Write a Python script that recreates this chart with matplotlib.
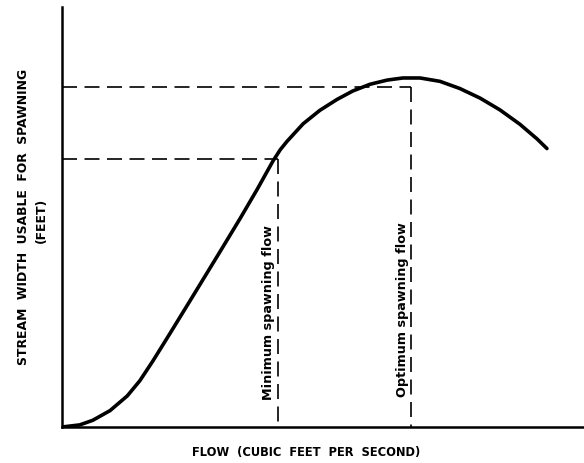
import matplotlib
matplotlib.use("Agg")
import matplotlib.pyplot as plt

# curve (arbitrary units, both axes 0-100)
flow = [0, 3.4, 5.9, 9.2, 12.5, 14.9, 17.4, 20.7, 24.5, 30.3, 34.1, 37.4,
        40.4, 41.8, 43.1, 46.2, 49.4, 52.7, 55.7, 59.0, 62.3, 65.3, 68.6,
        72.4, 76.2, 80.1, 83.9, 87.7, 91.0, 92.9]
width = [0, 0.5, 1.6, 3.9, 7.4, 11.0, 15.7, 22.3, 30.0, 41.8, 49.6, 56.6,
         63.3, 66.0, 68.0, 72.2, 75.4, 78.0, 80.0, 81.6, 82.6, 83.1, 83.1,
         82.3, 80.6, 78.3, 75.5, 72.1, 68.6, 66.3]

min_flow, min_width = 41.4, 63.8
opt_flow, opt_width = 66.9, 81.0

fig = plt.figure(figsize=(5.84, 4.64), dpi=100)
ax = fig.add_axes([62 / 584, 36 / 464, 522 / 584, 420 / 464])

ax.plot(flow, width, color='black', lw=2.6, solid_joinstyle='round',
        solid_capstyle='round')

dash = dict(color='black', lw=1.2, dashes=(9, 4.5))
ax.plot([0, min_flow], [min_width, min_width], **dash)
ax.plot([min_flow, min_flow], [min_width, 0], **dash)
ax.plot([0, opt_flow], [opt_width, opt_width], **dash)
ax.plot([opt_flow, opt_flow], [opt_width, 0], **dash)

ax.text(min_flow - 1.9, 27.6, 'Minimum spawning flow', rotation=90,
        ha='center', va='center', fontsize=9.2, fontweight='bold')
ax.text(opt_flow - 1.7, 28.2, 'Optimum spawning flow', rotation=90,
        ha='center', va='center', fontsize=9.2, fontweight='bold')

ax.set_xlim(0, 100)
ax.set_ylim(0, 100)
ax.set_xticks([])
ax.set_yticks([])
for side in ['top', 'right']:
    ax.spines[side].set_visible(False)
for side in ['left', 'bottom']:
    ax.spines[side].set_linewidth(1.8)

fig.text(306 / 584, 1 - 453 / 464, 'FLOW  (CUBIC  FEET  PER  SECOND)',
         ha='center', va='center', fontsize=8.3, fontweight='bold')
fig.text(24 / 584, 1 - 217 / 464, 'STREAM  WIDTH  USABLE  FOR  SPAWNING',
         rotation=90, ha='center', va='center', fontsize=8.9, fontweight='bold')
fig.text(41 / 584, 1 - 220 / 464, '(FEET)',
         rotation=90, ha='center', va='center', fontsize=8.9, fontweight='bold')

fig.savefig('out.png', dpi=100)
